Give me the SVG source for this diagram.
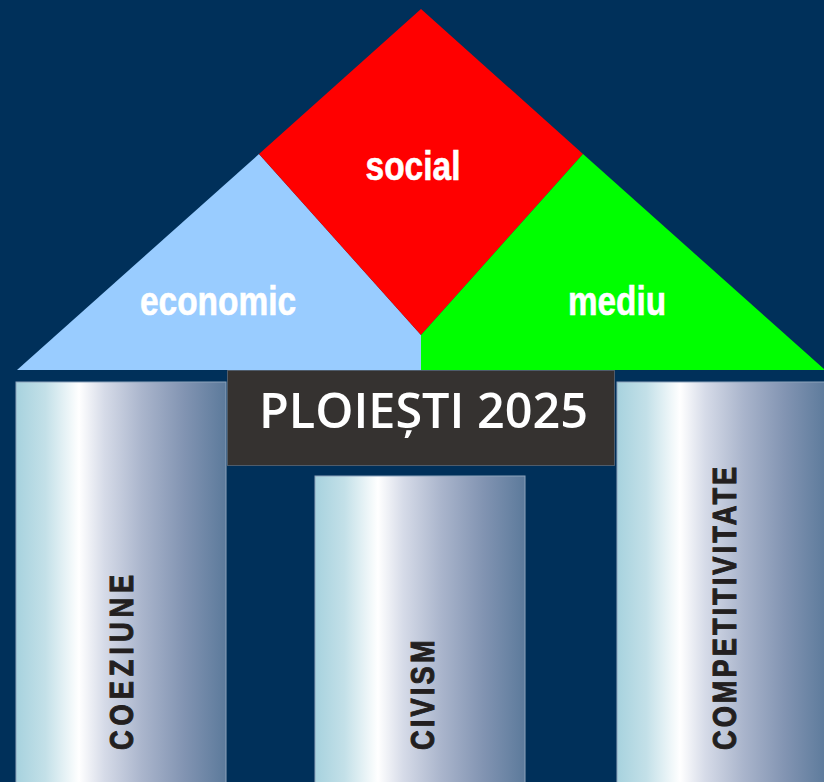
<svg xmlns="http://www.w3.org/2000/svg" width="824" height="782" viewBox="0 0 824 782">
<defs>
<linearGradient id="pillar" x1="0" y1="0" x2="1" y2="0">
<stop offset="0" stop-color="#a7d2de"/>
<stop offset="0.14" stop-color="#c3e0e8"/>
<stop offset="0.3" stop-color="#ffffff"/>
<stop offset="0.42" stop-color="#d6dbe8"/>
<stop offset="0.6" stop-color="#aab5cc"/>
<stop offset="0.8" stop-color="#8294b2"/>
<stop offset="1" stop-color="#5c7a9b"/>
</linearGradient>
<style>
.roof{font-family:"Liberation Sans",Arial,sans-serif;font-weight:bold;font-size:41px;fill:#ffffff;stroke:#ffffff;stroke-width:0.6;text-anchor:middle}
.pil{font-family:"Liberation Sans",Arial,sans-serif;font-weight:bold;font-size:34px;fill:#231f20;stroke:#231f20;stroke-width:1}
.col{fill:url(#pillar);stroke:#8ea3bb;stroke-width:1}
</style>
</defs>
<rect width="824" height="782" fill="#00305a"/>
<g id="economic">
<polygon points="17,370 259,154 421,335 421,370" fill="#99ccff"/>
<text class="roof" x="218" y="315" textLength="156" lengthAdjust="spacingAndGlyphs">economic</text>
</g>
<g id="social">
<polygon points="421,9 583,154 421,335 259,154" fill="#ff0000"/>
<text class="roof" x="413" y="180" textLength="95" lengthAdjust="spacingAndGlyphs">social</text>
</g>
<g id="mediu">
<polygon points="421,335 583,154 825,370 421,370" fill="#00ff00"/>
<text class="roof" x="617" y="315" textLength="98" lengthAdjust="spacingAndGlyphs">mediu</text>
</g>
<g id="coeziune">
<rect class="col" x="16" y="382" width="210" height="402"/>
<text class="pil" transform="translate(133,750) rotate(-90) scale(0.8,1)" textLength="219" lengthAdjust="spacing">COEZIUNE</text>
</g>
<g id="civism">
<rect class="col" x="315" y="476" width="210" height="308"/>
<text class="pil" transform="translate(434,750) rotate(-90) scale(0.8,1)" textLength="137" lengthAdjust="spacing">CIVISM</text>
</g>
<g id="competitivitate">
<rect class="col" x="617" y="382" width="210" height="402"/>
<text class="pil" transform="translate(736,750) rotate(-90) scale(0.8,1)" textLength="354" lengthAdjust="spacing">COMPETITIVITATE</text>
</g>
<g id="title">
<rect x="227.5" y="370.5" width="387" height="95" fill="#353230" stroke="#4f5c6b" stroke-width="1"/>
<text x="423.5" y="428" font-family="'Open Sans','Noto Sans',sans-serif" font-weight="600" font-size="49" fill="#ffffff" text-anchor="middle" textLength="329" lengthAdjust="spacingAndGlyphs">PLOIEȘTI 2025</text>
</g>
<g id="connectors"/>
</svg>
